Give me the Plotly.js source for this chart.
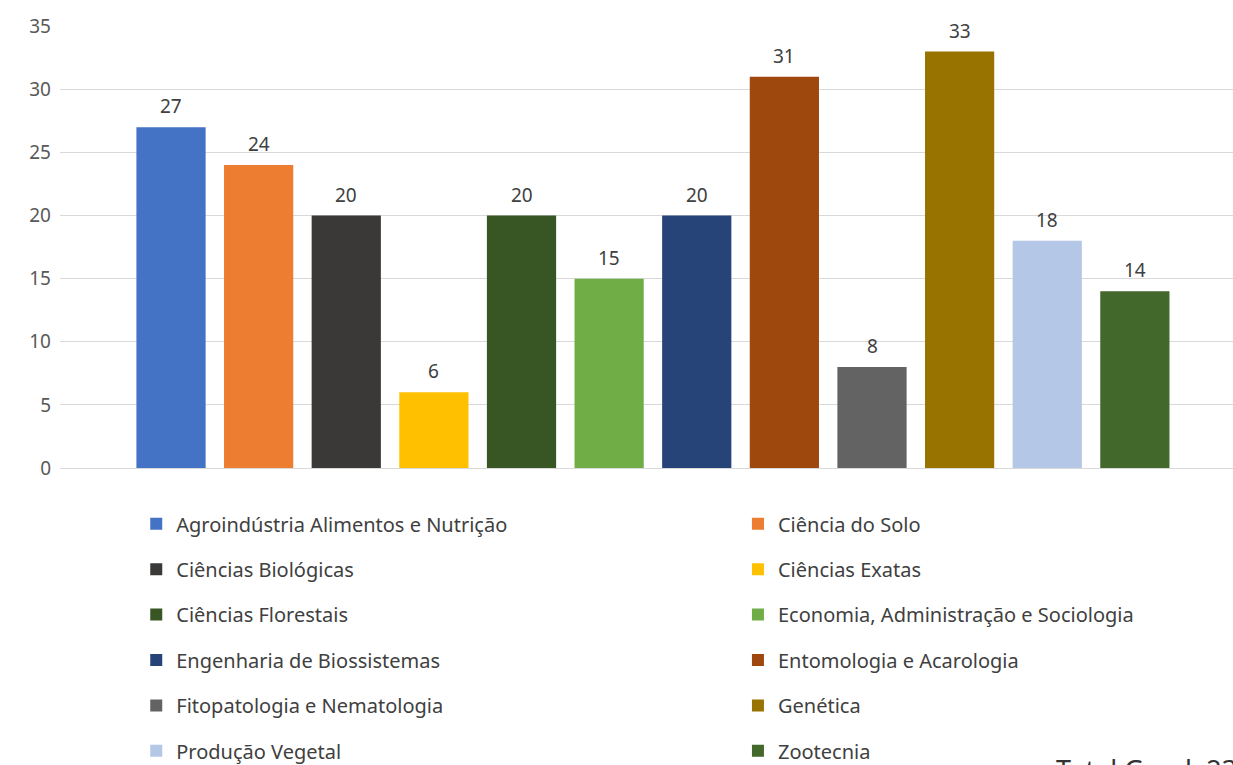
<!DOCTYPE html>
<html>
<head>
<meta charset="utf-8">
<script src="https://cdn.plot.ly/plotly-3.0.1.min.js"></script>
<style>html,body{margin:0;padding:0;background:#fff;}#chart{width:1233px;height:765px;}</style>
</head>
<body>
<div id="chart"></div>
<script>
const categories = [
  "Agroindústria Alimentos e Nutrição",
  "Ciência do Solo",
  "Ciências Biológicas",
  "Ciências Exatas",
  "Ciências Florestais",
  "Economia, Administração e Sociologia",
  "Engenharia de Biossistemas",
  "Entomologia e Acarologia",
  "Fitopatologia e Nematologia",
  "Genética",
  "Produção Vegetal",
  "Zootecnia"
];
const values = [27, 24, 20, 6, 20, 15, 20, 31, 8, 33, 18, 14];
const colors = ["#4472C4", "#ED7D31", "#3B3838", "#FFC000", "#375623", "#70AD47",
                "#264478", "#9E480E", "#636363", "#997300", "#B4C7E7", "#43682B"];
const yTicks = [0, 5, 10, 15, 20, 25, 30, 35];
const totalLabel = "Total Geral: " + values.reduce((a, b) => a + b, 0);

const FONT = "Noto Sans, sans-serif";

const traces = categories.map((name, i) => ({
  type: "bar",
  name: name,
  x: [name],
  y: [values[i]],
  width: 0.79,
  marker: { color: colors[i] },
  legend: i % 2 === 0 ? "legend" : "legend2",
  legendgroup: "g" + i,
  hoverinfo: "name+y"
}));

const labelAnnotations = categories.map((name, i) => ({
  x: name,
  y: values[i],
  xref: "x",
  yref: "y",
  text: String(values[i]),
  showarrow: false,
  yanchor: "bottom",
  yshift: 6,
  font: { family: FONT, size: 19, color: "#404040" }
}));

const legendBase = {
  xref: "container",
  yref: "container",
  xanchor: "left",
  yanchor: "top",
  y: 0.3408,
  orientation: "v",
  tracegroupgap: 16.4,
  bgcolor: "rgba(0,0,0,0)",
  borderwidth: 0,
  font: { family: FONT, size: 20, color: "#404040" }
};

const layout = {
  width: 1233,
  height: 765,
  margin: { l: 60, r: 0, t: 26, b: 297, autoexpand: false },
  paper_bgcolor: "#ffffff",
  plot_bgcolor: "#ffffff",
  barmode: "overlay",
  showlegend: true,
  xaxis: {
    type: "category",
    categoryorder: "array",
    categoryarray: categories,
    range: [-1.267, 12.12],
    showticklabels: false,
    showgrid: false,
    zeroline: false,
    showline: false,
    fixedrange: true
  },
  yaxis: {
    range: [0, 35.02],
    tickvals: yTicks,
    ticktext: yTicks.map(String),
    showgrid: true,
    gridcolor: "#d9d9d9",
    gridwidth: 1,
    zeroline: true,
    zerolinecolor: "#d9d9d9",
    zerolinewidth: 1,
    showline: false,
    ticks: "",
    ticklabelstandoff: 8,
    tickfont: { family: FONT, size: 19, color: "#595959" },
    fixedrange: true
  },
  legend: Object.assign({}, legendBase, { x: 0.1105 }),
  legend2: Object.assign({}, legendBase, { x: 0.5985 }),
  annotations: labelAnnotations.concat([{
    xref: "paper",
    yref: "paper",
    x: 0.847,
    y: -0.636,
    xanchor: "left",
    yanchor: "top",
    text: totalLabel,
    showarrow: false,
    font: { family: FONT, size: 27, color: "#333333" }
  }])
};

Plotly.newPlot("chart", traces, layout, { displayModeBar: false, staticPlot: true });
</script>
</body>
</html>
